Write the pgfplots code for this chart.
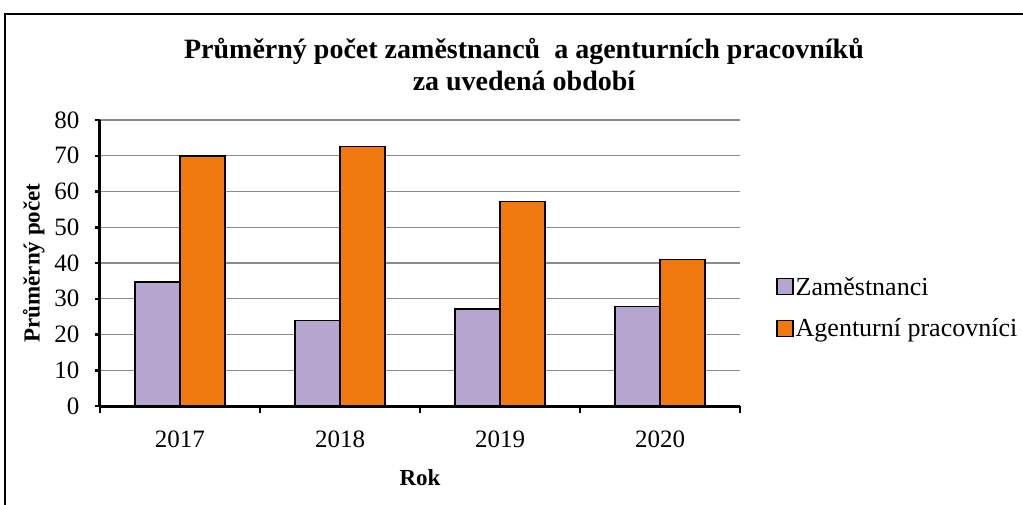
\documentclass[border=0pt]{standalone}
\usepackage{fontspec}
\setmainfont{Liberation Serif}
\usepackage{pgfplots}
\pgfplotsset{compat=1.18}
\definecolor{lav}{RGB}{181,165,207}
\definecolor{org}{RGB}{240,120,14}
\begin{document}
\begin{tikzpicture}[x=1pt,y=1pt]
\path[use as bounding box] (0,0) rectangle (1023,504);
\draw[line width=1.5pt] (5,-20) rectangle (1040,490);
\node[font=\fontsize{28}{32}\selectfont\bfseries, align=center] at (524,439) {Průměrný počet zaměstnanců\ \ a agenturních pracovníků\\za uvedená období};
\begin{axis}[
  at={(100pt,98pt)}, anchor=south west,
  scale only axis, width=640pt, height=286pt,
  xmin=-0.5, xmax=3.5, ymin=0, ymax=80,
  ytick={0,10,...,80},
  xtick={0,1,2,3}, xticklabels={2017,2018,2019,2020},
  minor xtick={-0.5,0.5,1.5,2.5,3.5},
  major x tick style={draw=none},
  minor tick length=7pt, major tick length=5pt,
  tick align=outside,
  tick style={line width=2.5pt, black},
  axis x line*=bottom, axis y line*=left,
  axis line style={-, line width=3pt, black},
  ymajorgrids, grid style={line width=1.2pt, gray!90},
  ybar=0pt, bar width=45pt,
  tick label style={font=\fontsize{25}{28}\selectfont},
  /pgf/number format/assume math mode=true,
  xticklabel style={yshift=-16pt},
  yticklabel style={xshift=-12pt},
  xlabel={Rok}, ylabel={Průměrný počet},
  xlabel style={yshift=-15pt},
  ylabel style={yshift=4pt},
  ylabel shift=-1pt,
  label style={font=\fontsize{23}{26}\selectfont\bfseries},
  legend style={at={(1.052,0.344)}, anchor=west, draw=none, fill=none,
    font=\fontsize{26}{30}\selectfont, row sep=18pt,
    legend cell align=left},
  legend image code/.code={\draw[#1, draw=black, line width=1.2pt] (0pt,-8pt) rectangle (16pt,8pt);},
]
\addplot[fill=lav, draw=black, line width=1.5pt] coordinates {(0,34.7) (1,23.9) (2,27.1) (3,27.9)};
\addplot[fill=org, draw=black, line width=1.5pt] coordinates {(0,69.9) (1,72.6) (2,57.2) (3,41)};
\legend{Zaměstnanci, Agenturní pracovníci}
\end{axis}
\end{tikzpicture}
\end{document}
